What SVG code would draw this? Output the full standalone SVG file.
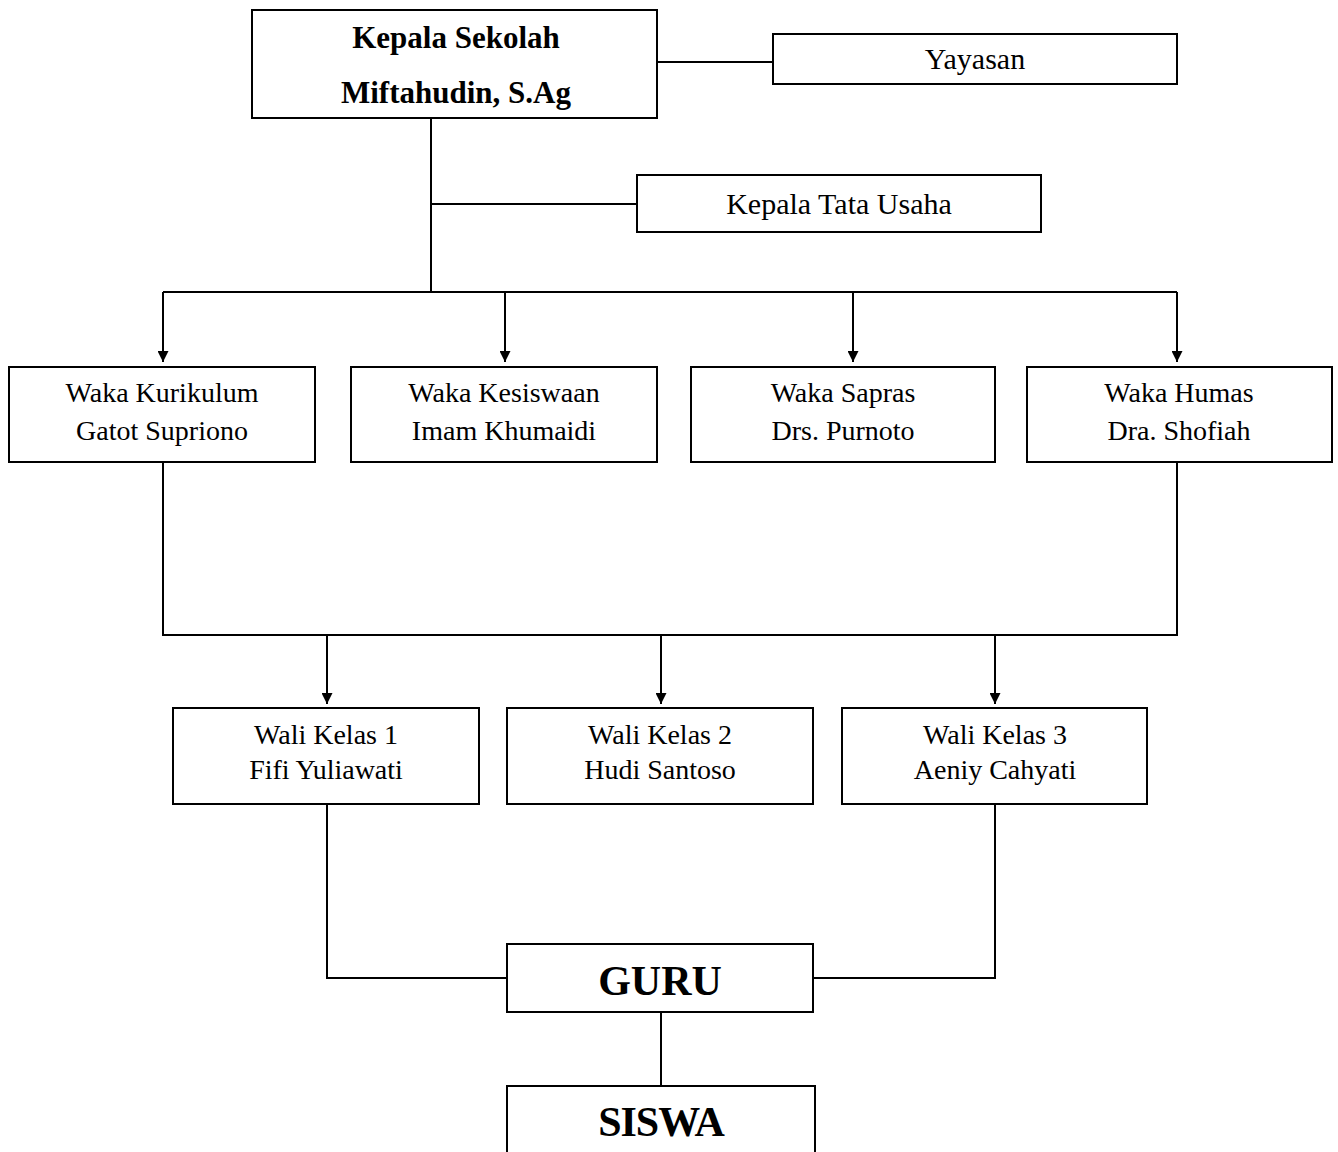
<svg xmlns="http://www.w3.org/2000/svg" width="1338" height="1152" viewBox="0 0 1338 1152">
<defs>
<style>
.box{fill:#fff;stroke:#000;stroke-width:2}
.ln{fill:none;stroke:#000;stroke-width:2}
.t{font-family:"Liberation Serif","Times New Roman",serif;font-size:28px;fill:#000;text-anchor:middle}
.tb{font-family:"Liberation Serif","Times New Roman",serif;font-weight:bold;fill:#000;text-anchor:middle}
</style>
<marker id="ah" viewBox="0 0 10 10" refX="10" refY="5" markerWidth="11" markerHeight="11" markerUnits="userSpaceOnUse" orient="auto">
<path d="M0,0 L10,5 L0,10 z" fill="#000"/>
</marker>
</defs>
<rect width="1338" height="1152" fill="#fff"/>
<g id="connectors">
<line class="ln" x1="657" y1="62" x2="773" y2="62"/>
<line class="ln" x1="431" y1="118" x2="431" y2="292"/>
<line class="ln" x1="431" y1="204" x2="636" y2="204"/>
<line class="ln" x1="163" y1="292" x2="1177" y2="292"/>
<line class="ln" x1="163" y1="292" x2="163" y2="362" marker-end="url(#ah)"/>
<line class="ln" x1="505" y1="292" x2="505" y2="362" marker-end="url(#ah)"/>
<line class="ln" x1="853" y1="292" x2="853" y2="362" marker-end="url(#ah)"/>
<line class="ln" x1="1177" y1="292" x2="1177" y2="362" marker-end="url(#ah)"/>
<polyline class="ln" points="163,462 163,635 1177,635 1177,462"/>
<line class="ln" x1="327" y1="635" x2="327" y2="704" marker-end="url(#ah)"/>
<line class="ln" x1="661" y1="635" x2="661" y2="704" marker-end="url(#ah)"/>
<line class="ln" x1="995" y1="635" x2="995" y2="704" marker-end="url(#ah)"/>
<polyline class="ln" points="327,804 327,978 507,978"/>
<polyline class="ln" points="995,804 995,978 813,978"/>
<line class="ln" x1="661" y1="1012" x2="661" y2="1086"/>
</g>
<g id="kepala-sekolah">
<rect class="box" x="252" y="10" width="405" height="108"/>
<text class="tb" x="456" y="48" font-size="31">Kepala Sekolah</text>
<text class="tb" x="456" y="103" font-size="31">Miftahudin,  S.Ag</text>
</g>
<g id="yayasan">
<rect class="box" x="773" y="34" width="404" height="50"/>
<text class="t" x="975" y="69" style="font-size:30px">Yayasan</text>
</g>
<g id="kepala-tata-usaha">
<rect class="box" x="637" y="175" width="404" height="57"/>
<text class="t" x="839" y="214" style="font-size:30px">Kepala Tata Usaha</text>
</g>
<g id="waka-kurikulum">
<rect class="box" x="9" y="367" width="306" height="95"/>
<text class="t" x="162" y="402">Waka Kurikulum</text>
<text class="t" x="162" y="440">Gatot Supriono</text>
</g>
<g id="waka-kesiswaan">
<rect class="box" x="351" y="367" width="306" height="95"/>
<text class="t" x="504" y="402">Waka Kesiswaan</text>
<text class="t" x="504" y="440">Imam Khumaidi</text>
</g>
<g id="waka-sapras">
<rect class="box" x="691" y="367" width="304" height="95"/>
<text class="t" x="843" y="402">Waka Sapras</text>
<text class="t" x="843" y="440">Drs. Purnoto</text>
</g>
<g id="waka-humas">
<rect class="box" x="1027" y="367" width="305" height="95"/>
<text class="t" x="1179" y="402">Waka Humas</text>
<text class="t" x="1179" y="440">Dra. Shofiah</text>
</g>
<g id="wali-kelas-1">
<rect class="box" x="173" y="708" width="306" height="96"/>
<text class="t" x="326" y="744">Wali Kelas 1</text>
<text class="t" x="326" y="779">Fifi Yuliawati</text>
</g>
<g id="wali-kelas-2">
<rect class="box" x="507" y="708" width="306" height="96"/>
<text class="t" x="660" y="744">Wali Kelas 2</text>
<text class="t" x="660" y="779">Hudi Santoso</text>
</g>
<g id="wali-kelas-3">
<rect class="box" x="842" y="708" width="305" height="96"/>
<text class="t" x="995" y="744">Wali Kelas 3</text>
<text class="t" x="995" y="779">Aeniy Cahyati</text>
</g>
<g id="guru">
<rect class="box" x="507" y="944" width="306" height="68"/>
<text class="tb" x="660" y="995" font-size="42">GURU</text>
</g>
<g id="siswa">
<rect class="box" x="507" y="1086" width="308" height="80"/>
<text class="tb" x="661" y="1136" font-size="42" letter-spacing="-1">SISWA</text>
</g>
</svg>
